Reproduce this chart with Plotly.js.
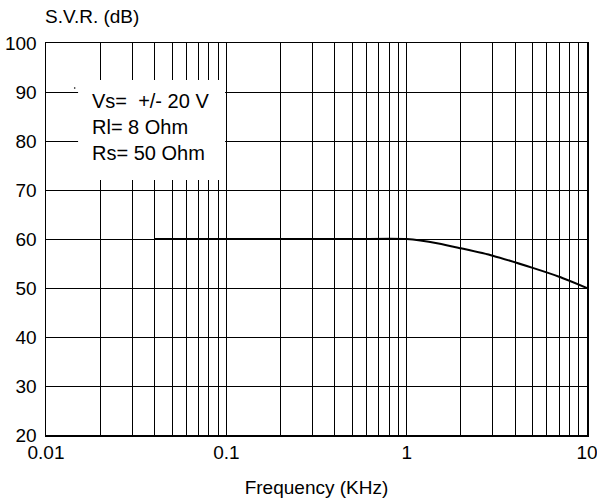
<!DOCTYPE html>
<html>
<head>
<meta charset="utf-8">
<script src="https://cdn.plot.ly/plotly-3.0.1.min.js"></script>
<style>html,body{margin:0;padding:0;background:#fff}#chart{width:597px;height:502px}</style>
</head>
<body>
<div id="chart"></div>
<script>
// Data
const freqKHz = [0.04, 0.1, 0.5, 1, 1.5, 2, 3, 5, 7, 10];
const svrDb   = [60,   60,  60,  60, 59.1, 58.1, 56.6, 54.1, 52.3, 50];

const xMajorTicks = [0.01, 0.1, 1, 10];
const xMajorLabels = ["0.01", "0.1", "1", "10"];
const yTicks = [20, 30, 40, 50, 60, 70, 80, 90, 100];

const conditionLines = ["Vs=  +/- 20 V", "Rl= 8 Ohm", "Rs= 50 Ohm"];

// build log grid tick positions (1..9 per decade)
const xTickVals = [], xTickText = [];
for (let d = 0; d < xMajorTicks.length; d++) {
  const base = xMajorTicks[d];
  xTickVals.push(base); xTickText.push(xMajorLabels[d]);
  if (d < xMajorTicks.length - 1) {
    for (let m = 2; m <= 9; m++) { xTickVals.push(base * m); xTickText.push(""); }
  }
}

const font = "Liberation Sans, Arial, Helvetica, sans-serif";

const trace = {
  x: freqKHz, y: svrDb, type: "scatter", mode: "lines",
  line: {color: "#000", width: 2, shape: "spline", smoothing: 0.6},
  hoverinfo: "skip"
};

const layout = {
  width: 597, height: 502,
  margin: {l: 46, r: 10, t: 43, b: 67},
  paper_bgcolor: "#fff", plot_bgcolor: "#fff",
  showlegend: false,
  font: {family: font, size: 19, color: "#000"},
  xaxis: {
    type: "log", range: [-2, 1],
    tickvals: xTickVals, ticktext: xTickText,
    showgrid: true, gridcolor: "#000", gridwidth: 1,
    showline: true, linecolor: "#000", linewidth: 1.5, mirror: true,
    ticks: "", zeroline: false, ticklabeloverflow: "allow",
    tickfont: {family: font, size: 19, color: "#000"},
    title: {text: "Frequency (KHz)", font: {family: font, size: 19, color: "#000"}, standoff: 18}
  },
  yaxis: {
    range: [20, 100], tickvals: yTicks,
    showgrid: true, gridcolor: "#000", gridwidth: 1,
    showline: true, linecolor: "#000", linewidth: 1.5, mirror: true,
    ticks: "", zeroline: false, ticklabelstandoff: 4,
    tickfont: {family: font, size: 19, color: "#000"}
  },
  shapes: [
    {type: "rect", xref: "paper", yref: "paper", x0: 0.0593, x1: 0.331, y0: 0.6505, y1: 0.9056,
     fillcolor: "#fff", line: {width: 0}, layer: "above"},
    {type: "circle", xref: "paper", yref: "paper", x0: 0.0515, x1: 0.0545, y0: 0.883, y1: 0.887,
     fillcolor: "#000", line: {width: 0}, layer: "above"}
  ],
  annotations: [
    {text: "S.V.R. (dB)", xref: "paper", yref: "paper", x: -0.006, y: 1.0, xanchor: "left", yanchor: "bottom",
     yshift: 14, showarrow: false, font: {family: font, size: 19, color: "#000"}},
    {text: conditionLines.join("<br>"), xref: "paper", yref: "paper", x: 0.081, y: 0.884, xanchor: "left", yanchor: "top",
     align: "left", showarrow: false, font: {family: font, size: 20, color: "#000"}}
  ]
};

Plotly.newPlot("chart", [trace], layout, {displayModeBar: false, staticPlot: true});
</script>
</body>
</html>
